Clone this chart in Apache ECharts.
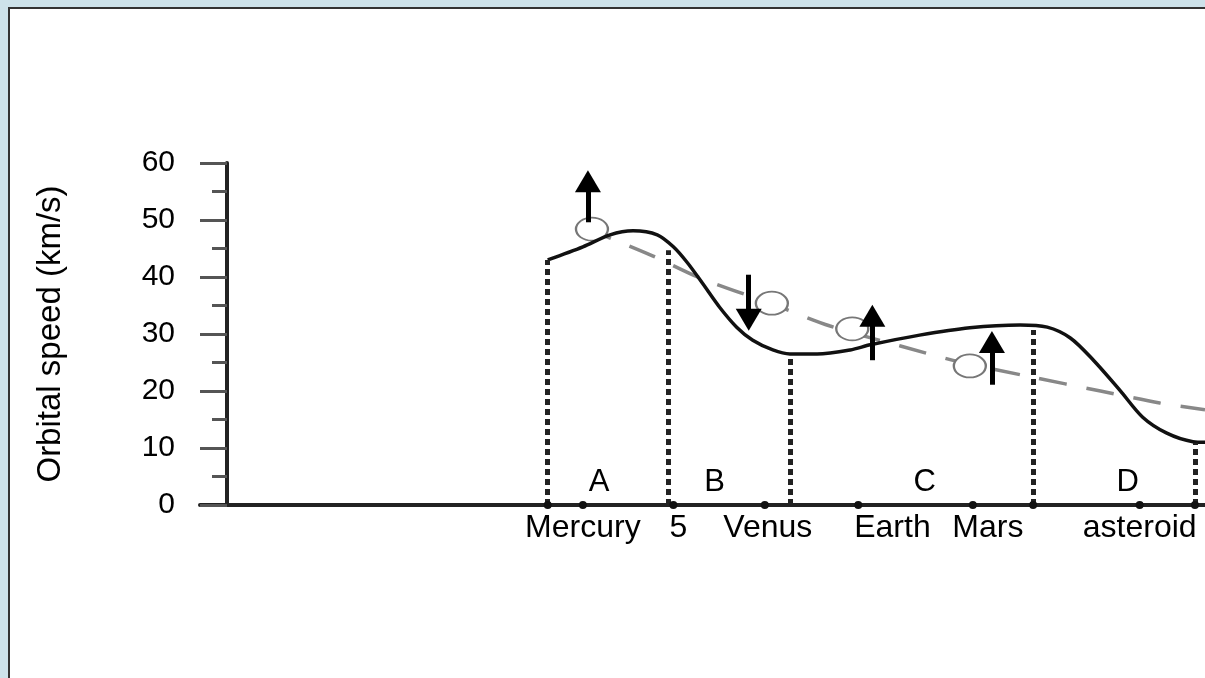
<!DOCTYPE html>
<html>
<head>
<meta charset="utf-8">
<script src="https://cdn.jsdelivr.net/npm/echarts@6/dist/echarts.min.js"></script>
<style>
  html, body { margin: 0; padding: 0; width: 1205px; height: 678px; overflow: hidden; background: #cde2ea; }
  #frame { position: absolute; left: 8px; top: 7px; right: 0; bottom: 0; background: #fff;
           border-left: 2px solid #333; border-top: 2px solid #333; }
  #chart { position: absolute; left: 0; top: 0; width: 1205px; height: 678px; }
</style>
</head>
<body>
<div id="frame"></div>
<div id="chart"></div>
<script>
// x positions are schematic distance units (0..100), y is orbital speed in km/s
var speedX = [34.6, 38.1, 40.8, 43.1, 45.5, 47.1, 48.5, 50.0, 51.7, 53.4, 55.0, 57.0, 58.7, 61.4, 64.7, 66.7, 71.6, 76.6, 81.6, 84.3, 86.6, 88.9, 91.5, 93.8, 96.2, 98.8, 100];
var speedY = [43.0, 45.3, 47.4, 48.1, 47.4, 45.3, 42.5, 38.9, 34.7, 31.2, 28.9, 27.2, 26.5, 26.5, 27.2, 28.1, 29.8, 31.1, 31.6, 31.2, 29.3, 25.4, 20.2, 15.4, 12.6, 11.1, 11.0];

// gray dashed trend
var trendX = [38.3, 44.8, 49.8, 56.7, 62.7, 69.7, 75.6, 82.6, 89.6, 95.5, 100];
var trendY = [48.6, 43.9, 39.8, 35.4, 31.4, 27.9, 25.1, 22.5, 20.0, 17.9, 16.7];

// dotted zone boundaries
var dropX = [34.6, 46.6, 58.7, 82.9, 99.0];
var dropTop = [43.0, 44.7, 26.0, 30.7, 10.9];

// small dots on the axis
var dotX = [34.6, 38.1, 47.1, 56.2, 65.5, 76.9, 82.9, 93.5, 99.0];

var bodyNames = ['Mercury', '5', 'Venus', 'Earth', 'Mars', 'asteroid'];
var bodyX = [38.1, 47.6, 56.5, 68.9, 78.4, 93.5];

var zoneNames = ['A', 'B', 'C', 'D'];
var zoneX = [39.7, 51.2, 72.1, 92.3];
var zoneY = 4;

// arrows: x, start, head
var arrowX = [38.6, 54.6, 66.9, 78.8];
var arrowFrom = [49.6, 40.4, 25.4, 21.1];
var arrowTo = [56.8, 32.5, 33.2, 28.6];

// little orbit ellipses
var orbitX = [39.0, 56.9, 64.9, 76.6];
var orbitY = [48.4, 35.4, 30.9, 24.4];

var yTicks = [0, 10, 20, 30, 40, 50, 60];

var FONT = 'Liberation Sans, Arial, sans-serif';

function zip(a, b) {
  return a.map(function (v, i) { return [v, b[i]]; });
}

var chart = echarts.init(document.getElementById('chart'), null, { renderer: 'canvas' });

var textLabel = {
  show: true,
  formatter: '{b}',
  fontFamily: FONT,
  fontSize: 31,
  color: '#000'
};

var option = {
  animation: false,
  backgroundColor: 'transparent',
  grid: { left: 200, right: 0, top: 163, bottom: 173, containLabel: false },
  xAxis: {
    type: 'value',
    min: 0,
    max: 100,
    axisLine: { onZero: false, lineStyle: { color: '#222', width: 4 } },
    axisTick: { show: false },
    axisLabel: { show: false },
    splitLine: { show: false }
  },
  yAxis: {
    type: 'value',
    min: yTicks[0],
    max: yTicks[yTicks.length - 1],
    interval: 10,
    offset: -27,
    name: 'Orbital speed (km/s)',
    nameLocation: 'middle',
    nameGap: 160,
    nameTextStyle: { fontFamily: FONT, fontSize: 33, color: '#000' },
    axisLine: { onZero: false, lineStyle: { color: '#222', width: 4 } },
    axisTick: { show: true, length: 27, lineStyle: { color: '#555', width: 3 } },
    minorTick: { show: true, splitNumber: 2, length: 15, lineStyle: { color: '#555', width: 3 } },
    axisLabel: { margin: 52, fontFamily: FONT, fontSize: 30, color: '#000' },
    splitLine: { show: false }
  },
  series: [
    {
      name: 'trend',
      type: 'line',
      data: zip(trendX, trendY),
      smooth: 0.3,
      symbol: 'none',
      lineStyle: { color: '#888', width: 3.5, type: [28, 20] },
      z: 2
    },
    {
      name: 'orbits',
      type: 'scatter',
      data: zip(orbitX, orbitY),
      symbol: 'emptyCircle',
      symbolSize: [32, 23],
      itemStyle: { color: '#777', opacity: 1, borderWidth: 2.5 },
      z: 3
    },
    {
      name: 'speed',
      type: 'line',
      data: zip(speedX, speedY),
      smooth: 0.3,
      symbol: 'none',
      lineStyle: { color: '#111', width: 3.5 },
      z: 4,
      markLine: {
        silent: true,
        symbol: 'none',
        label: { show: false },
        lineStyle: { color: '#222', width: 5, type: [6, 4] },
        data: dropX.map(function (x, i) {
          return [{ coord: [x, 0] }, { coord: [x, dropTop[i]] }];
        })
      }
    },
    {
      name: 'arrows',
      type: 'line',
      data: [],
      z: 5,
      markLine: {
        silent: true,
        symbol: ['none', 'triangle'],
        symbolSize: [26, 22],
        label: { show: false },
        lineStyle: { color: '#000', width: 5, type: 'solid' },
        data: arrowX.map(function (x, i) {
          return [{ coord: [x, arrowFrom[i]] }, { coord: [x, arrowTo[i]] }];
        })
      }
    },
    {
      name: 'axisDots',
      type: 'scatter',
      data: dotX.map(function (x) { return [x, 0]; }),
      symbol: 'circle',
      symbolSize: 8,
      itemStyle: { color: '#111', opacity: 1 },
      z: 6
    },
    {
      name: 'bodies',
      type: 'scatter',
      data: bodyX.map(function (x, i) { return { value: [x, 0], name: bodyNames[i] }; }),
      symbolSize: 1,
      itemStyle: { color: 'rgba(0,0,0,0)', opacity: 1 },
      label: Object.assign({ position: 'bottom', distance: 7 }, textLabel, { fontSize: 32 }),
      z: 6
    },
    {
      name: 'zones',
      type: 'scatter',
      data: zoneX.map(function (x, i) { return { value: [x, zoneY], name: zoneNames[i] }; }),
      symbolSize: 1,
      itemStyle: { color: 'rgba(0,0,0,0)', opacity: 1 },
      label: Object.assign({ position: 'inside' }, textLabel),
      z: 6
    }
  ]
};

chart.setOption(option);
</script>
</body>
</html>
